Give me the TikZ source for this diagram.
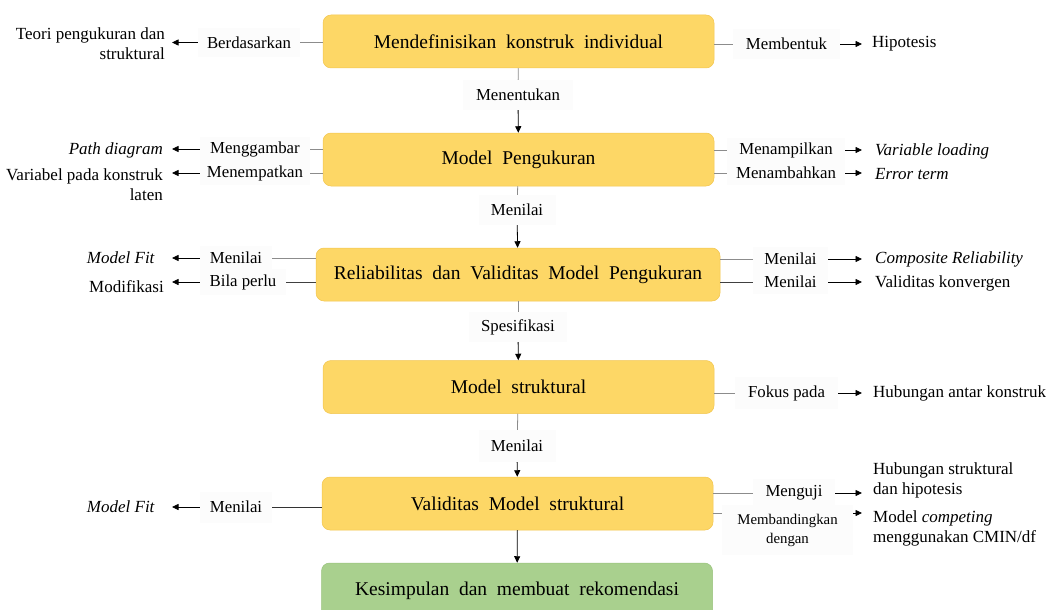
\documentclass[tikz,border=0pt]{standalone}
\usepackage{fontspec}
\setmainfont{Liberation Serif}
\usetikzlibrary{arrows.meta}
\definecolor{ybox}{HTML}{FDD766}
\definecolor{ydraw}{HTML}{F2C54E}
\definecolor{gbox}{HTML}{A9D08E}
\definecolor{gdraw}{HTML}{98C27C}
\definecolor{lblfill}{HTML}{FCFCFC}
\definecolor{linkgray}{HTML}{8C8C8C}
\tikzset{
  stagebox/.style={rounded corners=8pt, fill=ybox, draw=ydraw, line width=0.5pt,
    minimum width=391pt, minimum height=53pt, inner sep=0pt,
    font=\fontsize{19.5}{22}\selectfont},
  endbox/.style={stagebox, fill=gbox, draw=gdraw},
  lbl/.style={fill=lblfill, inner sep=0pt, align=center,
    font=\fontsize{16.8}{19}\selectfont},
  smalllbl/.style={lbl, font=\fontsize{14.8}{19}\selectfont},
  txtl/.style={inner sep=0pt, anchor=east, align=right, font=\fontsize{17}{20}\selectfont},
  txtr/.style={inner sep=0pt, anchor=west, align=left, font=\fontsize{17}{20}\selectfont},
  link/.style={draw=linkgray, line width=0.8pt},
  arr/.style={draw=black, line width=0.8pt, -{Triangle[length=6.5pt,width=6pt]}},
}
\begin{document}
\begin{tikzpicture}[x=1pt,y=-1pt]
\useasboundingbox (0,0) rectangle (1055,610);
% main stages
\node[stagebox] (b1) at (518.5,41.5) {Mendefinisikan\ \ konstruk\ \ individual};
\node[stagebox] (b2) at (518.5,159.5) {Model\ \ Pengukuran};
\node[stagebox, minimum width=404pt] (b3) at (518,274.5) {Reliabilitas\ \ dan\ \ Validitas\ \ Model\ \ Pengukuran};
\node[stagebox] (b4) at (518.5,387) {Model\ \ struktural};
\node[stagebox] (b5) at (517.5,503.5) {Validitas\ \ Model\ \ struktural};
\node[endbox, minimum height=56pt] (b6) at (517,591) {Kesimpulan\ \ dan\ \ membuat\ \ rekomendasi};

% vertical labels
\node[lbl, minimum width=110pt, minimum height=30pt] (m1) at (518,95) {Menentukan};
\node[lbl, minimum width=77pt, minimum height=30pt] (m2) at (517,210) {Menilai};
\node[lbl, minimum width=98pt, minimum height=30pt] (m3) at (518,327) {Spesifikasi};
\node[lbl, minimum width=77pt, minimum height=32pt] (m4) at (517,446) {Menilai};

\draw[link] (b1) -- (m1); \draw[arr] (m1) -- (b2);
\draw[link] (b2) -- (m2); \draw[arr] (m2) -- (b3);
\draw[link] (b3) -- (m3); \draw[arr] (m3) -- (b4);
\draw[link] (b4) -- (m4); \draw[arr] (m4) -- (b5);
\draw[arr] (b5) -- (b6);

% left labels
\node[lbl, minimum width=102pt, minimum height=29pt] (la1) at (249,42.5) {Berdasarkan};
\node[lbl, minimum width=110pt, minimum height=24pt] (la2) at (255,149) {Menggambar};
\node[lbl, minimum width=110pt, minimum height=24pt] (la3) at (255,173) {Menempatkan};
\node[lbl, minimum width=72pt, minimum height=24pt] (la4) at (236,258) {Menilai};
\node[lbl, minimum width=86pt, minimum height=26pt] (la5) at (243,282) {Bila perlu};
\node[lbl, minimum width=72pt, minimum height=31pt] (la6) at (236,507) {Menilai};

% left targets
\node[txtl] (ta1) at (165,44) {Teori pengukuran dan\\struktural};
\node[txtl] (ta2) at (163,150) {\textit{Path diagram}};
\node[txtl] (ta3) at (163,185) {Variabel pada konstruk\\laten};
\node[txtl] (ta4) at (155,258) {\textit{Model Fit}};
\node[txtl] (ta5) at (164,287) {Modifikasi};
\node[txtl] (ta6) at (155,507) {\textit{Model Fit}};

\draw[link] (b1.west |- la1) -- (la1.east);
\draw[arr, shorten >=7pt] (la1.west) -- (la1.west -| ta1.east);
\draw[link] (b2.west |- la2) -- (la2.east);
\draw[arr, shorten >=9pt] (la2.west) -- (la2.west -| ta2.east);
\draw[link] (b2.west |- la3) -- (la3.east);
\draw[arr, shorten >=9pt] (la3.west) -- (la3.west -| ta3.east);
\draw[link] (b3.west |- la4) -- (la4.east);
\draw[arr, shorten >=17pt] (la4.west) -- (la4.west -| ta4.east);
\draw[link, draw=black!75] (b3.west |- la5) -- (la5.east);
\draw[arr, shorten >=8pt] (la5.west) -- (la5.west -| ta5.east);
\draw[link, draw=black!80] (b5.west |- la6) -- (la6.east);
\draw[arr, shorten >=17pt] (la6.west) -- (la6.west -| ta6.east);

% right labels
\node[lbl, minimum width=107pt, minimum height=30pt] (ra1) at (786.5,44) {Membentuk};
\node[lbl, minimum width=118pt, minimum height=24pt] (ra2) at (786,150) {Menampilkan};
\node[lbl, minimum width=118pt, minimum height=24pt] (ra3) at (786,173) {Menambahkan};
\node[lbl, minimum width=75pt, minimum height=24pt] (ra4) at (790.5,259) {Menilai};
\node[lbl, minimum width=75pt, minimum height=24pt] (ra5) at (790.5,282) {Menilai};
\node[lbl, minimum width=103pt, minimum height=32pt] (ra6) at (786.5,393) {Fokus pada};
\node[lbl, minimum width=82pt, minimum height=28pt] (ra7) at (794,493) {Menguji};
\node[smalllbl, minimum width=131pt, minimum height=50pt] (ra8) at (787.5,530) {Membandingkan\\dengan};
\coordinate (c8) at (0,513);

% right targets
\node[txtr] (tb1) at (872,44) {Hipotesis};
\node[txtr] (tb2) at (875,151) {\textit{Variable loading}};
\node[txtr] (tb3) at (875,174) {\textit{Error term}};
\node[txtr] (tb4) at (875,259) {\textit{Composite Reliability}};
\node[txtr] (tb5) at (875,283) {Validitas konvergen};
\node[txtr] (tb6) at (873,393) {Hubungan antar konstruk};
\node[txtr] (tb7) at (873,480.5) {Hubungan struktural\\dan hipotesis};
\node[txtr] (tb8) at (873,528) {Model \textit{competing}\\menggunakan CMIN/df};

\draw[link] (b1.east |- ra1) -- (ra1.west);
\draw[arr, shorten >=10pt] (ra1.east) -- (ra1.east -| tb1.west);
\draw[link] (b2.east |- ra2) -- (ra2.west);
\draw[arr, shorten >=13pt] (ra2.east) -- (ra2.east -| tb2.west);
\draw[link] (b2.east |- ra3) -- (ra3.west);
\draw[arr, shorten >=13pt] (ra3.east) -- (ra3.east -| tb3.west);
\draw[link] (b3.east |- ra4) -- (ra4.west);
\draw[arr, shorten >=13pt] (ra4.east) -- (ra4.east -| tb4.west);
\draw[link, draw=black!75] (b3.east |- ra5) -- (ra5.west);
\draw[arr, shorten >=13pt] (ra5.east) -- (ra5.east -| tb5.west);
\draw[link] (b4.east |- ra6) -- (ra6.west);
\draw[arr, shorten >=11pt] (ra6.east) -- (ra6.east -| tb6.west);
\draw[link] (b5.east |- ra7) -- (ra7.west);
\draw[arr, shorten >=11pt] (ra7.east) -- (ra7.east -| tb7.west);
\draw[link] (b5.east |- c8) -- (ra8.west |- c8);
\draw[arr, shorten >=11pt] (ra8.east |- c8) -- (tb8.west |- c8);
\end{tikzpicture}
\end{document}
